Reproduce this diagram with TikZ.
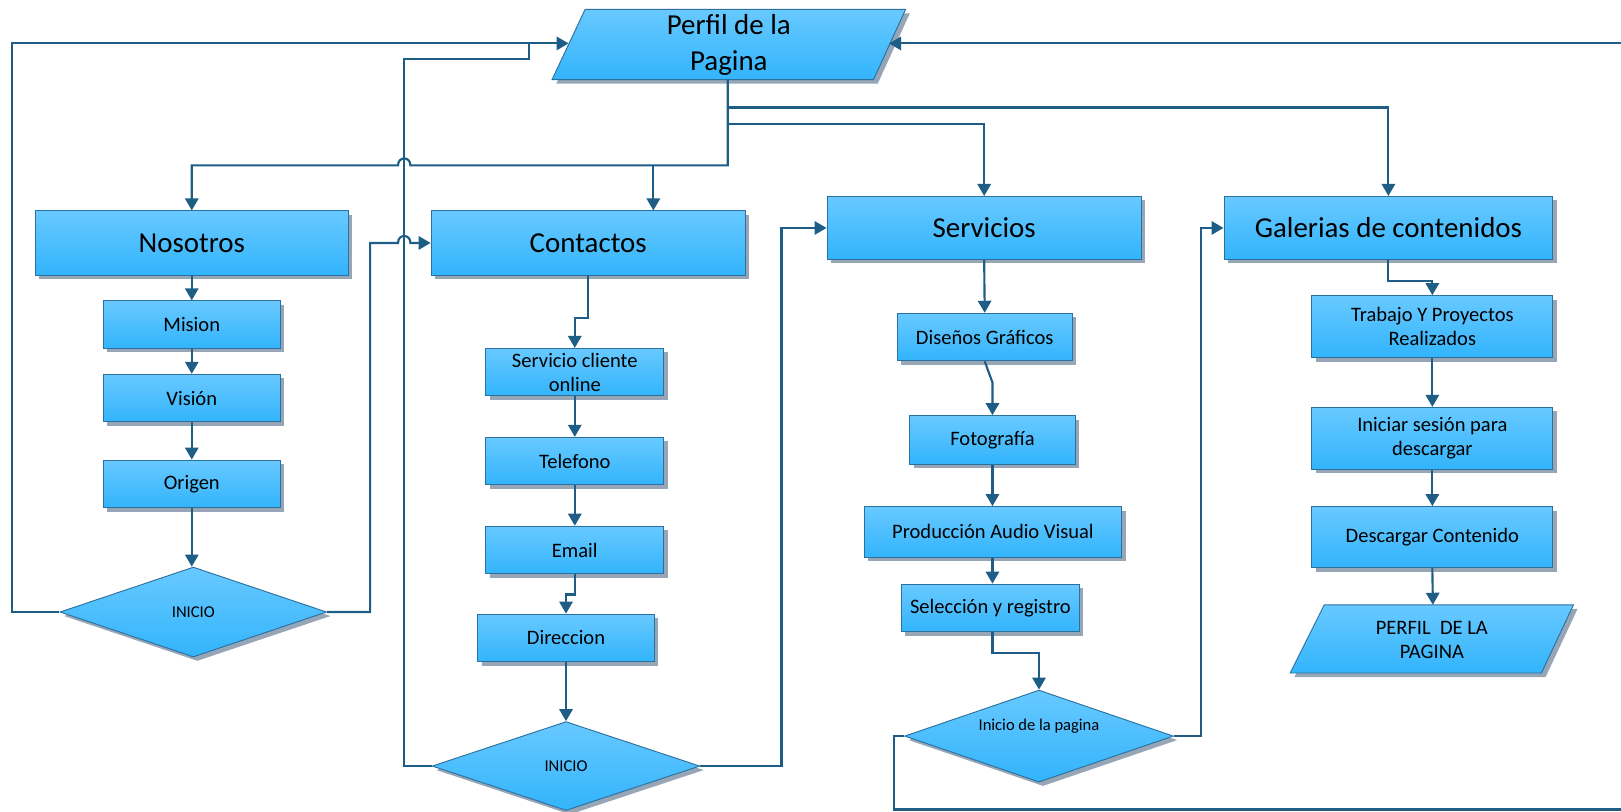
\documentclass[tikz,border=0pt]{standalone}
\usepackage{fontspec}
\setmainfont{Carlito}
\usetikzlibrary{shapes.geometric,shadows,arrows.meta}
\definecolor{boxtop}{RGB}{104,201,255}
\definecolor{boxbot}{RGB}{50,180,252}
\definecolor{boxline}{RGB}{44,112,160}
\definecolor{wire}{RGB}{30,94,134}
\definecolor{shadowgray}{RGB}{150,166,182}
% node from its corner coordinates: style, name, x1, y1, x2, y2, text
\newcommand\mkbox[7]{%
  \node[#1, minimum width={(#5-#3)*0.7754pt}, minimum height={(#6-#4)*0.7754pt}]
    (#2) at ({(#3+#5)/2},{(#4+#6)/2}) {#7};}
\begin{document}
\begin{tikzpicture}[x=0.7754pt,y=-0.7754pt,
  shapefill/.style={draw=boxline, line width=0.7pt, top color=boxtop, bottom color=boxbot},
  base/.style={shapefill,
    drop shadow={shadow xshift=3pt, shadow yshift=-3pt, fill=shadowgray, opacity=1}},
  proc/.style={base, rectangle, inner sep=0pt, align=center,
    font=\fontsize{15.4}{17.8}\selectfont},
  head/.style={proc, font=\fontsize{21.7}{26}\selectfont},
  dec/.style={base, diamond, inner sep=0pt, font=\fontsize{12.4}{15}\selectfont},
  small/.style={font=\fontsize{12.4}{15}\selectfont, inner sep=0pt},
  wireline/.style={draw=wire, line width=1.6pt},
  flow/.style={wireline, -{Triangle[length=9pt,width=10pt]}},
]
\useasboundingbox (0,0) rectangle (1568,785);

% ---- top data block: Perfil de la Pagina
\fill[shadowgray, shift={(4,4)}] (566,9) -- (876,9) -- (845,77) -- (534,77) -- cycle;
\path[shapefill] (566,9) -- (876,9) -- (845,77) -- (534,77) -- cycle;
\node[align=center, font=\fontsize{21.7}{27}\selectfont] (perfil) at (705,43) {Perfil de la\\Pagina};
\coordinate (perfilL) at (550,42);
\coordinate (perfilR) at (860,42);
\coordinate (perfilB) at (704,77);

% ---- column 1: Nosotros
\mkbox{head}{nos}{34}{204}{337}{266}{Nosotros}
\mkbox{proc}{mis}{100}{291}{271}{337}{Mision}
\mkbox{proc}{vis}{100}{362}{271}{408}{Visión}
\mkbox{proc}{ori}{100}{445}{271}{491}{Origen}
\node[dec, minimum width={258*0.7754pt}, minimum height={87*0.7754pt}] (ini1) at (187,592) {INICIO};

% ---- column 2: Contactos
\mkbox{head}{cont}{417}{204}{721}{266}{Contactos}
\mkbox{proc}{scl}{470}{337}{642}{383}{Servicio cliente\\online}
\mkbox{proc}{tel}{470}{423}{642}{469}{Telefono}
\mkbox{proc}{ema}{470}{509}{642}{555}{Email}
\mkbox{proc}{dir}{462}{594}{633}{640}{Direccion}
\node[dec, minimum width={259*0.7754pt}, minimum height={86*0.7754pt}] (ini2) at (547.5,741) {INICIO};

% ---- column 3: Servicios
\mkbox{head}{serv}{800}{190}{1104}{251}{Servicios}
\mkbox{proc}{dis}{868}{303}{1037}{349}{Diseños Gráficos}
\mkbox{proc}{foto}{880}{402}{1040}{449}{Fotografía}
\mkbox{proc}{prod}{836}{490}{1085}{539}{Producción Audio Visual}
\mkbox{proc}{sel}{872}{565}{1044}{611}{Selección y registro}
\node[dec, minimum width={260*0.7754pt}, minimum height={89*0.7754pt}] (ini3) at (1005,712) {};
\node[small] (ini3txt) at (1005,702) {Inicio de la pagina};

% ---- column 4: Galerias de contenidos
\mkbox{head}{gal}{1184}{190}{1502}{251}{Galerias de contenidos}
\mkbox{proc}{trab}{1269}{286}{1502}{346}{Trabajo Y Proyectos\\Realizados}
\mkbox{proc}{inic}{1269}{394}{1502}{454}{Iniciar sesión para\\descargar}
\mkbox{proc}{desc}{1269}{490}{1502}{549}{Descargar Contenido}
\fill[shadowgray, shift={(4,4)}] (1281,585) -- (1522,585) -- (1491,651) -- (1248,651) -- cycle;
\path[shapefill] (1281,585) -- (1522,585) -- (1491,651) -- (1248,651) -- cycle;
\node[align=center, font=\fontsize{15.4}{18.6}\selectfont] (perf2) at (1385,619) {PERFIL\ \ DE LA\\PAGINA};
\coordinate (perf2T) at (1386,585);

% ---- branches leaving the top block
\coordinate (bC) at (632,160);
\draw[flow] (perfilB) -- (704,160) -- (397,160)
  .. controls (397,151) and (385,151) .. (385,160) -| (nos.north);
\draw[flow] (bC) -- (bC |- cont.north);
\draw[flow] (704,120) -| (serv.north);
\draw[flow] (704,104) -| (gal.north);

% ---- Nosotros column
\draw[flow] (nos.south) -- (mis.north);
\draw[flow] (mis.south) -- (vis.north);
\draw[flow] (vis.south) -- (ori.north);
\draw[flow] (ori.south) -- (ori.south |- ini1.north);
\draw[flow] (ini1.east) -- (358,592) -- (358,235) -- (385,235)
  .. controls (385,226) and (397,226) .. (397,235) -- (cont.west);
\draw[flow] (ini1.west) -- (12,592) -- (12,42) -- (perfilL);

% ---- Contactos column
\draw[flow] (cont.south) -- (569,308) -- (556,308) -- (scl.north);
\draw[flow] (scl.south) -- (tel.north);
\draw[flow] (tel.south) -- (ema.north);
\draw[flow] (ema.south) -- (556,575) -- (547.5,575) -- (dir.north);
\draw[flow] (dir.south) -- (ini2.north);
\draw[flow] (ini2.east) -- (756,741) -- (756,220.5) -- (serv.west);
\draw[wireline] (ini2.west) -- (391,741) -- (391,57) -- (512,57) -- (512,42);

% ---- Servicios column
\draw[flow] (serv.south) -- (dis.north);
\draw[flow] (dis.south) -- (960,370) -- (foto.north -| 960,0);
\draw[flow] (foto.south -| 960,0) -- (prod.north -| 960,0);
\draw[flow] (prod.south -| 960,0) -- (sel.north -| 960,0);
\draw[flow] (sel.south -| 960,0) -- (960,632) -| (ini3.north);
\draw[flow] (ini3.east) -- (1162,712) -- (1162,220.5) -- (gal.west);
\draw[flow] (ini3.west) -- (865,712) -- (865,783) -- (1600,783) -- (1600,42) -- (perfilR);

% ---- Galerias column
\draw[flow] (gal.south) -- (1343,272) -- (1385.5,272) -- (trab.north);
\draw[flow] (trab.south) -- (inic.north);
\draw[flow] (inic.south) -- (desc.north);
\draw[flow] (desc.south) -- (perf2T);
\end{tikzpicture}
\end{document}
